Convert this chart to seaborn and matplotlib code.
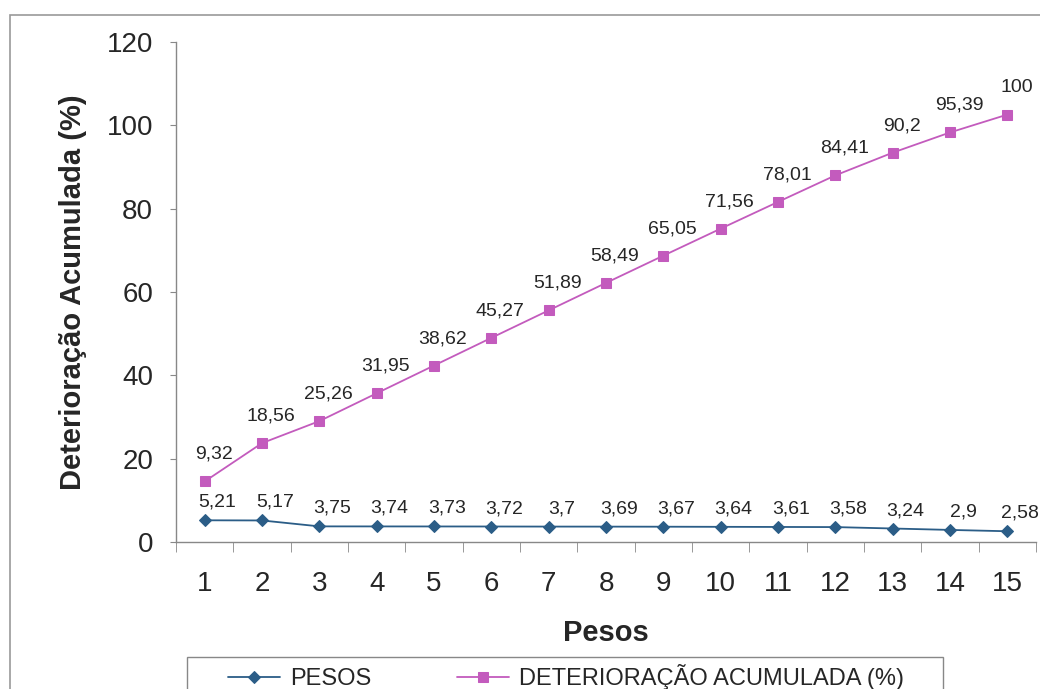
import numpy as np
import pandas as pd
import matplotlib
matplotlib.use("Agg")
import matplotlib.pyplot as plt
import seaborn as sns
from matplotlib.ticker import MultipleLocator

# Dados
pesos_idx = list(range(1, 16))
pesos = [5.21, 5.17, 3.75, 3.74, 3.73, 3.72, 3.7, 3.69, 3.67, 3.64, 3.61, 3.58, 3.24, 2.9, 2.58]
deterioracao = [9.32, 18.56, 25.26, 31.95, 38.62, 45.27, 51.89, 58.49, 65.05, 71.56,
                78.01, 84.41, 90.2, 95.39, 100]

cor_pesos = "#2b5d87"
cor_det = "#c35bbd"

sns.set_style("white")
plt.rcParams['font.family'] = ['Liberation Sans', 'DejaVu Sans']

# Gráfico de linhas empilhadas (como no Excel)
df = pd.DataFrame({"Pesos": pesos_idx, "PESOS": pesos, "DET": deterioracao})
df["DET_empilhado"] = df["PESOS"] + df["DET"]

fig = plt.figure(figsize=(10.4, 6.89), dpi=100)
ax = fig.add_axes([176/1040, 1 - 542/689, (1036-176)/1040, (542-42)/689])

sns.lineplot(data=df, x="Pesos", y="PESOS", ax=ax, color=cor_pesos, marker="D",
             markersize=6.5, markeredgecolor=cor_pesos, linewidth=1.3, label="PESOS")
sns.lineplot(data=df, x="Pesos", y="DET_empilhado", ax=ax, color=cor_det, marker="s",
             markersize=7, markeredgecolor=cor_det, linewidth=1.3,
             label="DETERIORAÇÃO ACUMULADA (%)")

# Rótulos de dados
for xi, yi, v in zip(df["Pesos"], df["PESOS"], df["PESOS"]):
    ax.annotate(f"{v:g}".replace(".", ","), xy=(xi, yi), xytext=(13, 18),
                textcoords="offset pixels", ha="center", va="center", fontsize=14)
for xi, yi, v in zip(df["Pesos"], df["DET_empilhado"], df["DET"]):
    ax.annotate(f"{v:g}".replace(".", ","), xy=(xi, yi), xytext=(9, 27),
                textcoords="offset pixels", ha="center", va="center", fontsize=14)

ax.set_xlim(0.5, 15.5)
ax.set_ylim(0, 120)
ax.yaxis.set_major_locator(MultipleLocator(20))
ax.set_xticks(pesos_idx)
ax.set_xticks(np.arange(0.5, 15.6, 1), minor=True)
ax.tick_params(axis="x", which="major", length=0, labelsize=20, pad=21)
ax.tick_params(axis="x", which="minor", length=7, color="#888888", direction="out")
ax.tick_params(axis="y", which="major", length=4.5, color="#888888", labelsize=20,
               direction="out", pad=12)
ax.xaxis.set_tick_params(bottom=True, which="both")
ax.yaxis.set_tick_params(left=True)

for s in ["top", "right"]:
    ax.spines[s].set_visible(False)
for s in ["left", "bottom"]:
    ax.spines[s].set_color("#888888")
    ax.spines[s].set_linewidth(1.0)

ax.set_xlabel("Pesos", fontsize=21, fontweight="bold", labelpad=16)
ax.set_ylabel("Deterioração Acumulada (%)", fontsize=21, fontweight="bold", labelpad=14)

# Legenda sem moldura + caixa desenhada à parte
leg = ax.legend(loc="upper left", bbox_to_anchor=(228/1040, 1 - 664/689),
                bbox_transform=fig.transFigure, ncol=2, frameon=False,
                fontsize=17, handlelength=2.2, handletextpad=0.45, columnspacing=3.6,
                borderpad=0, borderaxespad=0)
fig.patches.append(plt.Rectangle((187/1040, -0.05), (943-187)/1040, 0.05 + 1 - 657/689,
                                 transform=fig.transFigure, fill=False,
                                 edgecolor="#888888", linewidth=1.0))

# Moldura do gráfico
fig.patches.append(plt.Rectangle((10/1040, -0.1), 1.1, 1.1 - 15/689,
                                 transform=fig.transFigure, fill=False,
                                 edgecolor="#999999", linewidth=1.2))

plt.savefig("out.png", dpi=100)
plt.close()
